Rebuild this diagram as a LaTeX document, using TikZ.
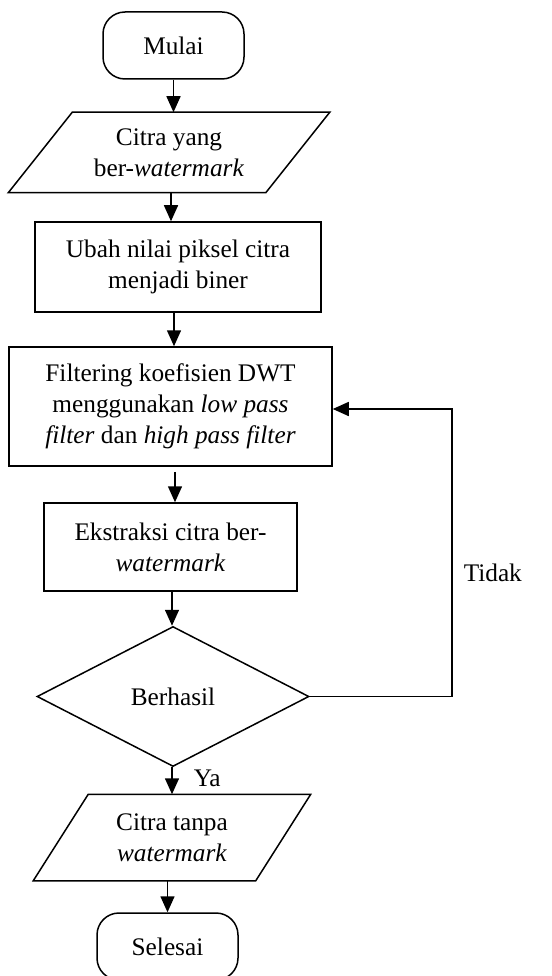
\documentclass[tikz,border=0pt]{standalone}
\usepackage{fontspec}
\setmainfont{Liberation Serif}
\usetikzlibrary{shapes.geometric,arrows.meta}
\begin{document}
\begin{tikzpicture}[x=1pt,y=-1pt,line width=1.5pt,
  every node/.style={font=\fontsize{25.3}{31}\selectfont, align=center, inner sep=0pt},
  term/.style={draw, rounded corners=22pt, minimum width=141pt, minimum height=67pt},
  proc/.style={draw, rectangle},
  io/.style={rectangle},
  dec/.style={draw, diamond},
  arr/.style={-{Triangle[width=14pt,length=16pt]}}
]
\useasboundingbox (0,0) rectangle (551,976);

\node[term] (mulai) at (173.5,45.5) {Mulai};

\node[io, minimum width=256pt, minimum height=79pt] (p1) at (169,152.5) {Citra yang\\ber-\textit{watermark}};
\draw ([xshift=32pt]p1.north west) -- ([xshift=32pt]p1.north east) -- ([xshift=-32pt]p1.south east) -- ([xshift=-32pt]p1.south west) -- cycle;

\node[proc, minimum width=286pt, minimum height=90pt] (b1) at (178,267) {Ubah nilai piksel citra\\menjadi biner};
\node[proc, minimum width=323pt, minimum height=119pt] (b2) at (170.5,406.5) {Filtering koefisien DWT\\menggunakan \textit{low pass}\\\textit{filter} dan \textit{high pass filter}};
\node[proc, minimum width=253pt, minimum height=88pt] (b3) at (170.5,547) {Ekstraksi citra ber-\\\textit{watermark}};
\node[dec, minimum width=272pt, minimum height=140pt] (dia) at (173,696.5) {Berhasil};

\node[io, minimum width=221pt, minimum height=85pt] (p2) at (172,837.5) {Citra tanpa\\\textit{watermark}};
\draw ([xshift=27.5pt]p2.north west) -- ([xshift=27.5pt]p2.north east) -- ([xshift=-27.5pt]p2.south east) -- ([xshift=-27.5pt]p2.south west) -- cycle;

\node[term] (sel) at (167.5,946.5) {Selesai};

\node[anchor=west] (tidak) at (463,573) {Tidak};
\node[anchor=west] (ya) at (193,778) {Ya};

\draw[arr] (mulai.south) -- (mulai.south |- p1.north);
\draw[arr] ([xshift=2pt]p1.south) -- ([xshift=2pt]p1.south |- b1.north);
\draw[arr] ([xshift=-4pt]b1.south) -- ([xshift=-4pt]b1.south |- b2.north);
\draw[arr] ([xshift=4.5pt,yshift=-5pt]b2.south) -- ([xshift=4.5pt]b2.south |- b3.north);
\draw[arr] ([xshift=1.5pt]b3.south) -- ([xshift=1.5pt]b3.south |- dia.north);
\draw[arr] ([xshift=-1pt]dia.south) -- ([xshift=-1pt]dia.south |- p2.north);
\draw[arr] (sel.north |- p2.south) -- (sel.north);
\coordinate (lc) at (452,696.5);
\draw[arr] (dia.east) -- (lc) |- ([yshift=-2.5pt]b2.east);
\end{tikzpicture}
\end{document}
